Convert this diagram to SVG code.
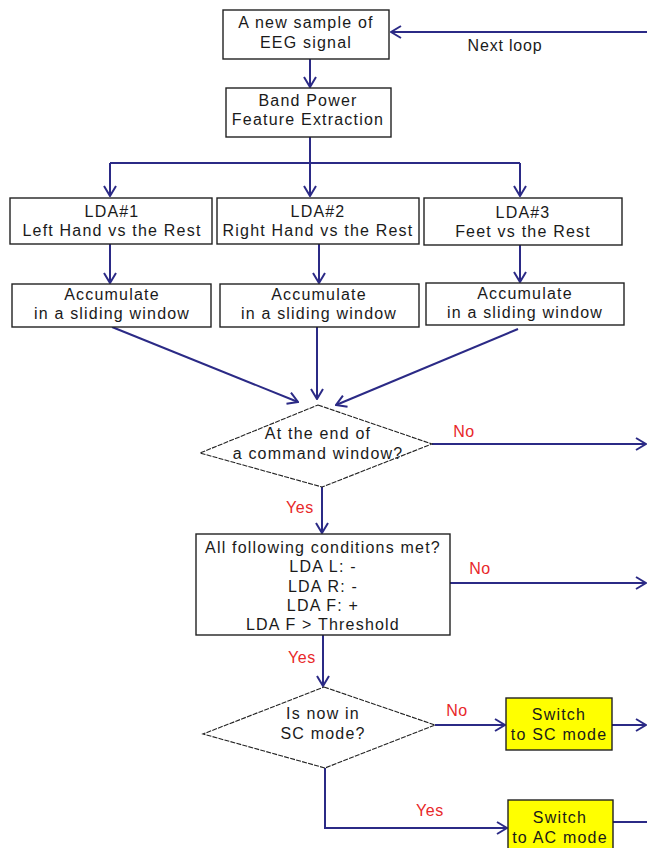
<svg xmlns="http://www.w3.org/2000/svg" width="647" height="848" viewBox="0 0 647 848">
<style>
.box{fill:#fff;stroke:#222;stroke-width:1.4}
.yel{fill:#ffff00;stroke:#222;stroke-width:1.4}
.dia{fill:#fff;stroke:#222;stroke-width:1.1;stroke-dasharray:5 1.2}
.t{font-family:"Liberation Sans",Arial,sans-serif;font-size:16px;fill:#1a1a1a;text-anchor:middle;letter-spacing:1.2px}
.r{font-family:"Liberation Sans",Arial,sans-serif;font-size:16px;fill:#e8282a;text-anchor:middle;letter-spacing:0.6px}
.c{fill:none;stroke:#2b2a86;stroke-width:2}
</style>
<defs>
<marker id="ah" viewBox="0 0 12 14" refX="11" refY="7" markerWidth="12" markerHeight="14" markerUnits="userSpaceOnUse" orient="auto">
<path d="M1,1 L11,7 L1,13" fill="none" stroke="#2b2a86" stroke-width="2"/>
</marker>
</defs>
<g id="connectors">
<path class="c" d="M647,32 L391,32" marker-end="url(#ah)"/>
<path class="c" d="M310,59 L310,87" marker-end="url(#ah)"/>
<path class="c" d="M310,137 L310,196" marker-end="url(#ah)"/>
<path class="c" d="M110,163 L520,163"/>
<path class="c" d="M110,163 L110,196" marker-end="url(#ah)"/>
<path class="c" d="M520,163 L520,196" marker-end="url(#ah)"/>
<path class="c" d="M110,244 L110,283" marker-end="url(#ah)"/>
<path class="c" d="M319,244 L319,283" marker-end="url(#ah)"/>
<path class="c" d="M520,245 L520,282" marker-end="url(#ah)"/>
<path class="c" d="M112,327 L298,402" marker-end="url(#ah)"/>
<path class="c" d="M317,327 L317,399" marker-end="url(#ah)"/>
<path class="c" d="M518,329 L336,405" marker-end="url(#ah)"/>
<path class="c" d="M432,444 L646,444" marker-end="url(#ah)"/>
<path class="c" d="M322,487 L322,533" marker-end="url(#ah)"/>
<path class="c" d="M450,583 L646,583" marker-end="url(#ah)"/>
<path class="c" d="M323,635 L323,686" marker-end="url(#ah)"/>
<path class="c" d="M435,725 L505,725" marker-end="url(#ah)"/>
<path class="c" d="M612,725 L646,725" marker-end="url(#ah)"/>
<path class="c" d="M325,768 L325,828 L507,828" marker-end="url(#ah)"/>
<path class="c" d="M613,822 L647,822"/>
</g>
<g id="lbl-next"><text class="t" x="505" y="51" style="letter-spacing:0.8px">Next loop</text></g>
<g id="n1"><rect class="box" x="223" y="10" width="166" height="49"/>
<text class="t" x="306" y="28">A new sample of</text><text class="t" x="306" y="48">EEG signal</text></g>
<g id="n2"><rect class="box" x="226" y="88" width="165" height="49"/>
<text class="t" x="308" y="106">Band Power</text><text class="t" x="308" y="125">Feature Extraction</text></g>
<g id="lda1"><rect class="box" x="10" y="198" width="202" height="46"/>
<text class="t" x="112" y="217">LDA#1</text><text class="t" x="112" y="236">Left Hand vs the Rest</text></g>
<g id="lda2"><rect class="box" x="217" y="198" width="202" height="46"/>
<text class="t" x="318" y="217">LDA#2</text><text class="t" x="318" y="236">Right Hand vs the Rest</text></g>
<g id="lda3"><rect class="box" x="424" y="198" width="198" height="47"/>
<text class="t" x="523" y="218">LDA#3</text><text class="t" x="523" y="237">Feet vs the Rest</text></g>
<g id="acc1"><rect class="box" x="12" y="284" width="199" height="43"/>
<text class="t" x="112" y="300">Accumulate</text><text class="t" x="112" y="319">in a sliding window</text></g>
<g id="acc2"><rect class="box" x="220" y="284" width="199" height="43"/>
<text class="t" x="319" y="300">Accumulate</text><text class="t" x="319" y="319">in a sliding window</text></g>
<g id="acc3"><rect class="box" x="426" y="283" width="198" height="42"/>
<text class="t" x="525" y="299">Accumulate</text><text class="t" x="525" y="318">in a sliding window</text></g>
<g id="d1"><polygon class="dia" points="318,405 432,444 322,487 200,453"/>
<text class="t" x="318" y="439">At the end of</text><text class="t" x="318" y="459">a command window?</text></g>
<g id="lbl-no1"><text class="r" x="464" y="437">No</text></g>
<g id="lbl-yes1"><text class="r" x="300" y="513">Yes</text></g>
<g id="n4"><rect class="box" x="196" y="534" width="254" height="101"/>
<text class="t" x="323" y="553">All following conditions met?</text>
<text class="t" x="323" y="572">LDA L: -</text>
<text class="t" x="323" y="592">LDA R: -</text>
<text class="t" x="323" y="611">LDA F: +</text>
<text class="t" x="323" y="630">LDA F &gt; Threshold</text></g>
<g id="lbl-no2"><text class="r" x="480" y="574">No</text></g>
<g id="lbl-yes2"><text class="r" x="302" y="663">Yes</text></g>
<g id="d2"><polygon class="dia" points="324,687 435,725 325,768 203,734"/>
<text class="t" x="323" y="719">Is now in</text><text class="t" x="323" y="739">SC mode?</text></g>
<g id="lbl-no3"><text class="r" x="457" y="716">No</text></g>
<g id="lbl-yes3"><text class="r" x="430" y="816">Yes</text></g>
<g id="sc"><rect class="yel" x="506" y="698" width="106" height="52"/>
<text class="t" x="559" y="720">Switch</text><text class="t" x="559" y="740">to SC mode</text></g>
<g id="ac"><rect class="yel" x="508" y="800" width="105" height="56"/>
<text class="t" x="560" y="823">Switch</text><text class="t" x="560" y="843">to AC mode</text></g>
</svg>
